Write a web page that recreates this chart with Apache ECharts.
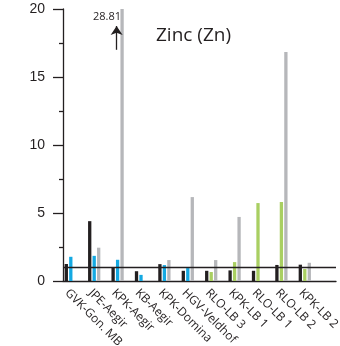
<!DOCTYPE html>
<html>
<head>
<meta charset="utf-8">
<script src="https://cdn.jsdelivr.net/npm/echarts@6/dist/echarts.min.js"></script>
<style>
  html, body { margin: 0; padding: 0; background: #fff; }
  #c { width: 340px; height: 346px; }
</style>
</head>
<body>
<div id="c"></div>
<script>
// Sites along the x axis
const categories = ['GVK-Gon. MB', 'JPE-Aegir', 'KPK-Aegir', 'KB-Aegir', 'KPK-Domina',
  'HGV-Veldhof', 'RLO-LB 3', 'KPK-LB 1', 'RLO-LB 1', 'RLO-LB 2', 'KPK-LB 2'];

// Zinc values per site (null = no bar)
const blackVals = [1.25, 4.4, 1.0, 0.72, 1.24, 0.75, 0.75, 0.78, 0.75, 1.18, 1.2];
const blueVals  = [1.78, 1.85, 1.56, 0.45, 1.17, 0.95, null, null, null, null, null];
const greenVals = [null, null, null, null, null, null, 0.66, 1.39, 5.73, 5.81, 0.88];
const grayVals  = [null, 2.45, 28.81, null, 1.54, 6.17, 1.54, 4.71, null, 16.84, 1.34];

// Value axis ticks
const yMin = 0, yMax = 20, yStep = 5;
const refLevel = 1;

const INK = '#231f20';
const BLUE = '#14a9e2';
const GREEN = '#a9cf62';
const GRAY = '#b6b7ba';

// each site occupies SLOT units on the x scale: bar group centred at i*SLOT+2,
// its rotated name hung from the tick one unit to the left
const SLOT = 6;
const pos = i => i * SLOT + 2;
const labelTick = i => i * SLOT + 1;
const pairs = vals => vals.map((v, i) => (v == null ? null : [pos(i), v])).filter(Boolean);

const midData = categories.map((_, i) => blueVals[i] != null
  ? { value: [pos(i), blueVals[i]], itemStyle: { color: BLUE } }
  : { value: [pos(i), greenVals[i]], itemStyle: { color: GREEN } });

const clippedIdx = grayVals.findIndex(v => v != null && v > yMax);

const barCommon = { type: 'bar', barWidth: 3.3, barGap: '36%', animation: false, silent: true };

const chart = echarts.init(document.getElementById('c'), null, { renderer: 'canvas' });
chart.setOption({
  animation: false,
  title: {
    text: 'Zinc (Zn)', left: 156, top: 26, padding: 0,
    textStyle: { fontFamily: 'Open Sans', fontSize: 19, fontWeight: 'normal', color: INK }
  },
  grid: { left: 63, right: 4, top: 9, bottom: 65, containLabel: false, outerBoundsMode: 'none' },
  xAxis: {
    type: 'value', min: 0, max: 70, interval: 1,
    axisLine: { show: true, onZero: false, lineStyle: { color: INK, width: 1.3 } },
    axisTick: { show: false },
    splitLine: { show: false },
    axisLabel: {
      rotate: -45, margin: 10, color: INK, fontFamily: 'Open Sans', fontSize: 12,
      formatter: v => (v % SLOT === 1 ? (categories[(v - 1) / SLOT] || '') : '')
    }
  },
  yAxis: {
    type: 'value', min: yMin, max: yMax, interval: yStep,
    axisLine: { show: true, lineStyle: { color: INK, width: 1.3 } },
    axisTick: { show: true, length: 10, lineStyle: { color: INK, width: 1.3 } },
    minorTick: { show: true, splitNumber: 2, length: 4, lineStyle: { color: INK, width: 1.3 } },
    splitLine: { show: false },
    axisLabel: { margin: 18, color: INK, fontFamily: 'Liberation Sans', fontSize: 14 }
  },
  series: [
    Object.assign({}, barCommon, {
      name: 'black', data: pairs(blackVals), itemStyle: { color: INK },
      markLine: {
        silent: true, symbol: 'none', animation: false,
        label: { show: false },
        lineStyle: { color: INK, width: 1.3, type: 'solid' },
        data: [{ yAxis: refLevel }]
      }
    }),
    Object.assign({}, barCommon, { name: 'mid', data: midData }),
    Object.assign({}, barCommon, {
      name: 'gray', data: pairs(grayVals), itemStyle: { color: GRAY },
      markLine: {
        silent: true, animation: false,
        symbol: ['none', 'arrow'], symbolSize: 9,
        label: { show: false },
        lineStyle: { color: INK, width: 1.3, type: 'solid' },
        data: [[{ coord: [pos(clippedIdx) - 1.4, 17.0] }, { coord: [pos(clippedIdx) - 1.4, 18.75] }]]
      },
      markPoint: {
        silent: true, animation: false, symbol: 'circle', symbolSize: 0,
        label: {
          show: true, position: 'inside', color: INK, fontFamily: 'Open Sans', fontSize: 11,
          formatter: () => String(grayVals[clippedIdx])
        },
        data: [{ coord: [pos(clippedIdx) - 3.88, 19.45] }]
      }
    })
  ]
});
</script>
</body>
</html>
